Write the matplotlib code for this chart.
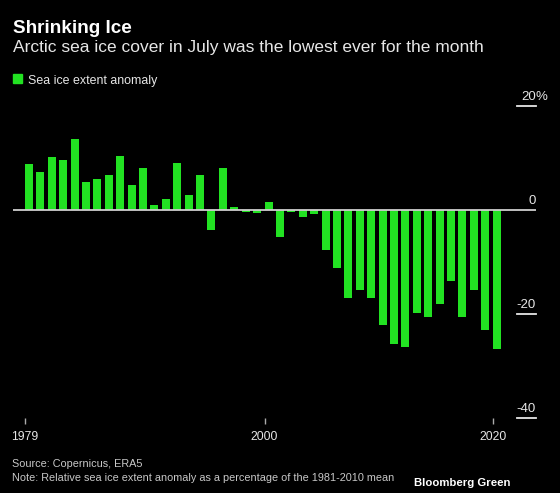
import matplotlib
matplotlib.use("Agg")
import matplotlib.pyplot as plt
from matplotlib.patches import Rectangle

# July sea ice extent anomaly (% of 1981-2010 mean)
years = list(range(1979, 2021))
anomaly = [8.9, 7.4, 10.1, 9.7, 13.7, 5.3, 5.9, 6.8, 10.4, 4.8,
           8.0, 0.9, 2.2, 9.1, 2.8, 6.8, -3.9, 8.0, 0.5, -0.3,
           -0.6, 1.5, -5.1, -0.3, -1.4, -0.7, -7.6, -11.1, -16.9, -15.3,
           -17.0, -22.1, -25.8, -26.3, -19.8, -20.6, -18.1, -13.7, -20.6, -15.3,
           -23.1, -26.7]
ytick_vals = [20, 0, -20, -40]
ytick_text = ["20", "0", "-20", "-40"]
xtick_vals = [1979, 2000, 2020]

W, H = 560, 493
bar_color = "#22e222"
plt.rcParams["font.family"] = ["Liberation Sans", "DejaVu Sans"]

fig = plt.figure(figsize=(W / 100, H / 100), dpi=100, facecolor="black")

def fx(px):
    return px / W

def fy(py):
    return 1 - py / H

# axes placed in pixel terms: x 13..536, y(20)=106 .. y(-40)=418
ax = fig.add_axes([fx(13), fy(418), fx(536) - fx(13), fy(106) - fy(418)])
ax.set_facecolor("black")
ax.bar(years, anomaly, width=0.7, color=bar_color, zorder=2)
ax.set_xlim(1977.6, 2023.45)
ax.set_ylim(-40, 20)
for s in ax.spines.values():
    s.set_visible(False)
ax.axhline(0, color="#cfcfcf", lw=1.3, zorder=3)

ax.set_yticks([])
# ticks sit at the start of each year, slightly left of the July bar
ax.set_xticks([v - 0.35 for v in xtick_vals])
ax.set_xticklabels([str(v) for v in xtick_vals])
ax.tick_params(axis="x", colors="#aaaaaa", length=4, width=1, pad=5,
               labelsize=8.7, labelcolor="#e6e6e6")

# right-side value marks (short lines with labels above)
for v, t in zip(ytick_vals, ytick_text):
    if v != 0:
        ax.plot([2020 + 1.75, 2023.45], [v, v], color="#e6e6e6", lw=1.3,
                clip_on=False, zorder=3)
    ax.annotate(t, xy=(2023.45, v), xytext=(0, 2.5), textcoords="offset points",
                ha="right", va="bottom", color="#e6e6e6", fontsize=9.5)
    if v == 20:
        ax.annotate("%", xy=(2023.45, v), xytext=(0, 2.5), textcoords="offset points",
                    ha="left", va="bottom", color="#e6e6e6", fontsize=9.5)

# header
fig.text(fx(13), fy(33), "Shrinking Ice", color="white", fontsize=13.6,
         fontweight="bold", va="baseline")
fig.text(fx(13), fy(52), "Arctic sea ice cover in July was the lowest ever for the month",
         color="#e6e6e6", fontsize=12.5, va="baseline")
fig.patches.append(Rectangle((fx(13), fy(83)), fx(9), 9 / H, transform=fig.transFigure,
                             color=bar_color))
fig.text(fx(28), fy(84), "Sea ice extent anomaly", color="#e6e6e6", fontsize=8.9,
         va="baseline")

# footer
fig.text(fx(12), fy(467), "Source: Copernicus, ERA5", color="#c8c8c8", fontsize=7.8,
         va="baseline")
fig.text(fx(12), fy(481),
         "Note: Relative sea ice extent anomaly as a percentage of the 1981-2010 mean",
         color="#c8c8c8", fontsize=7.8, va="baseline")
fig.text(fx(510), fy(486), "Bloomberg Green", color="white", fontsize=8.2,
         fontweight="bold", ha="right", va="baseline")

fig.savefig("out.png", dpi=100, facecolor="black")
